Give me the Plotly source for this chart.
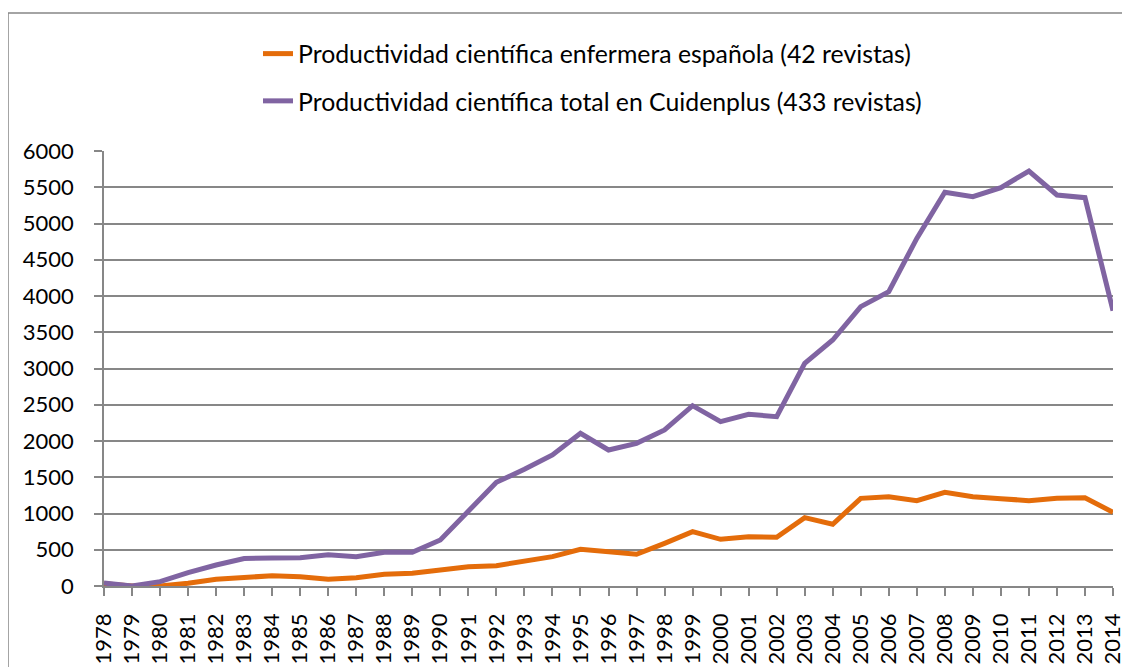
import plotly.graph_objects as go

years = list(range(1978, 2015))

enfermera = [30, 0, 0, 37, 92, 115, 142, 128, 92, 115, 161, 175, 220, 266, 280,
             345, 405, 506, 469, 437, 589, 749, 644, 680, 671, 943, 851, 1209,
             1232, 1177, 1292, 1232, 1205, 1177, 1209, 1218, 1017]

total = [40, 0, 60, 185, 290, 380, 385, 390, 430, 405, 465, 465, 635, 1025, 1430,
         1610, 1807, 2106, 1876, 1968, 2152, 2487, 2267, 2368, 2336, 3071, 3393,
         3853, 4060, 4795, 5430, 5370, 5494, 5724, 5393, 5356, 3797]

name_enf = "Productividad científica enfermera española (42 revistas)"
name_tot = "Productividad científica total en Cuidenplus (433 revistas)"

y_ticks = list(range(0, 6001, 500))

FONT = "Lato, 'Open Sans', sans-serif"
GRID = "#878787"

fig = go.Figure()
fig.add_trace(go.Scatter(x=years, y=enfermera, mode="lines", name=name_enf,
                         legendgroup="a",
                         line=dict(color="#E46C0A", width=5)))
fig.add_trace(go.Scatter(x=years, y=total, mode="lines", name=name_tot,
                         legendgroup="b",
                         line=dict(color="#8064A2", width=5)))

# the page body adds an 8px offset, so the figure is 8px smaller than the window
W, H = 1122, 659
L, R, T, B = 96, 17, 143, 81
pw = W - L - R
ph = H - T - B

fig.update_layout(
    width=W, height=H,
    margin=dict(l=L, r=R, t=T, b=B, pad=0, autoexpand=False),
    paper_bgcolor="white", plot_bgcolor="white",
    font=dict(family=FONT, size=22, color="#000000"),
    showlegend=True,
    legend=dict(
        xref="container", yref="container",
        x=250 / W, y=1 - 23 / H, xanchor="left", yanchor="top",
        font=dict(family=FONT, size=24.8, color="#000000"),
        tracegroupgap=12, bgcolor="rgba(0,0,0,0)",
        itemwidth=30,
    ),
    xaxis=dict(
        range=[1978, 2014], tickmode="array", tickvals=years,
        ticktext=[str(y) for y in years], tickangle=-90,
        showgrid=False, zeroline=False,
        showline=True, linecolor=GRID, linewidth=1.5,
        ticks="outside", ticklen=8, tickcolor=GRID, tickwidth=1.5,
        ticklabelstandoff=9,
        tickfont=dict(family=FONT, size=22, color="#000000"),
    ),
    yaxis=dict(
        range=[0, 6000], tickmode="array", tickvals=y_ticks,
        showgrid=True, gridcolor=GRID, gridwidth=1.5, zeroline=False,
        showline=True, linecolor=GRID, linewidth=1.5,
        ticks="outside", ticklen=8, tickcolor=GRID, tickwidth=1.5,
        ticklabelstandoff=16,
        tickfont=dict(family=FONT, size=22, color="#000000"),
    ),
    shapes=[dict(
        type="rect", xref="paper", yref="paper",
        x0=(0 - L) / pw, x1=(W + 20 - L) / pw,
        y0=-0.5, y1=(H - 5 - B) / ph,
        line=dict(color="#878787", width=1.5), fillcolor="rgba(0,0,0,0)",
        layer="below",
    )],
)

fig.write_html("out.html")
